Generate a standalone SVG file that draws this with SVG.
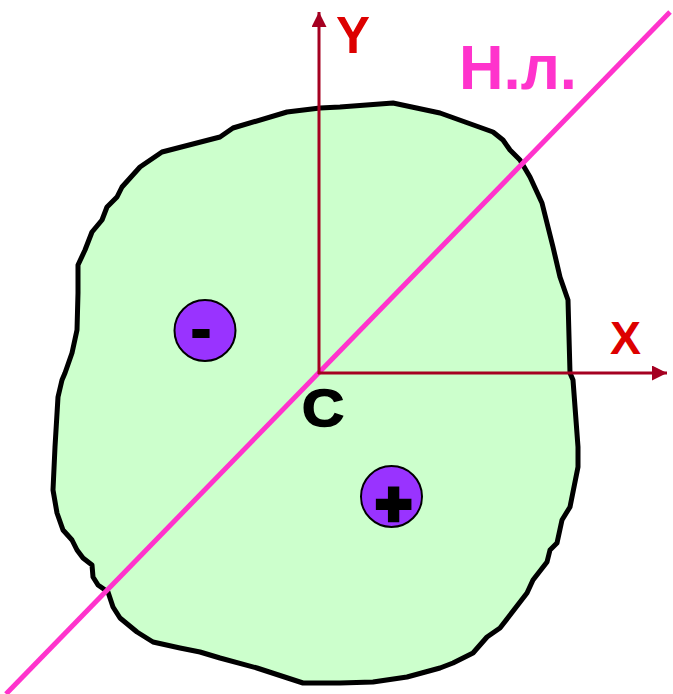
<svg xmlns="http://www.w3.org/2000/svg" width="673" height="694" viewBox="0 0 673 694">
<style>
.axis{stroke:#A50021;stroke-width:3;fill:none}
.lbl{font-family:"Liberation Sans",Arial,sans-serif;font-weight:bold}
.charge{fill:#9933FF;stroke:#000;stroke-width:2}
</style>
<defs>
<marker id="arr" viewBox="0 0 10 10" refX="10" refY="5" markerWidth="6" markerHeight="5" markerUnits="strokeWidth" orient="auto">
<path d="M0,0 L10,5 L0,10 Z" fill="#A50021"/>
</marker>
</defs>
<g id="section">
<path d="M320,108 L340,107 L393,103 L440,113 L493,132 L503,140 L510,150 L520,160 L530,177 L542,203 L553,247 L560,277 L568,300 L570,373 L573,380 L578,447 L578,467 L570,507 L562,520 L557,543 L550,550 L547,562 L533,580 L527,593 L500,628 L487,637 L473,653 L453,663 L440,668 L407,677 L373,682 L340,683 L303,683 L257,668 L220,658 L200,652 L180,648 L153,642 L137,632 L120,618 L113,607 L108,592 L98,585 L93,577 L92,565 L83,558 L77,550 L72,540 L63,530 L57,513 L53,490 L55,447 L58,397 L62,380 L65,373 L72,353 L77,330 L78,293 L78,265 L85,250 L92,232 L102,220 L107,207 L117,197 L122,187 L140,167 L162,152 L220,137 L233,128 L287,112 Z" fill="#CCFFCC" stroke="#000" stroke-width="5" stroke-linejoin="round"/>
</g>
<g id="connectors">
<line id="neutral-line" x1="6" y1="694" x2="670" y2="12" stroke="#FF33CC" stroke-width="5"/>
<line id="axis-y" class="axis" x1="319" y1="374" x2="319" y2="12" marker-end="url(#arr)"/>
<line id="axis-x" class="axis" x1="318" y1="373" x2="667" y2="373" marker-end="url(#arr)"/>
</g>
<g id="label-y"><text class="lbl" x="336" y="53" font-size="51" textLength="34" lengthAdjust="spacingAndGlyphs" fill="#DD0000">Y</text></g>
<g id="label-x"><text class="lbl" x="610" y="354" font-size="46" textLength="31" lengthAdjust="spacingAndGlyphs" fill="#DD0000">X</text></g>
<g id="label-nl"><text class="lbl" x="459" y="89" font-size="63" textLength="118" lengthAdjust="spacingAndGlyphs" fill="#FF33CC">Н.л.</text></g>
<g id="label-c"><text class="lbl" x="302" y="425.5" font-size="52" textLength="42" lengthAdjust="spacingAndGlyphs" fill="#000" stroke="#000" stroke-width="1.6">C</text></g>
<g id="charge-minus">
<circle class="charge" cx="205" cy="330.5" r="30.5"/>
<text class="lbl" x="201" y="349" font-size="60" text-anchor="middle" fill="#000" stroke="#000" stroke-width="2">-</text>
</g>
<g id="charge-plus">
<circle class="charge" cx="391.5" cy="496.5" r="30.5"/>
<text class="lbl" x="393.5" y="525" font-size="62" text-anchor="middle" fill="#000" stroke="#000" stroke-width="4.5">+</text>
</g>
</svg>
